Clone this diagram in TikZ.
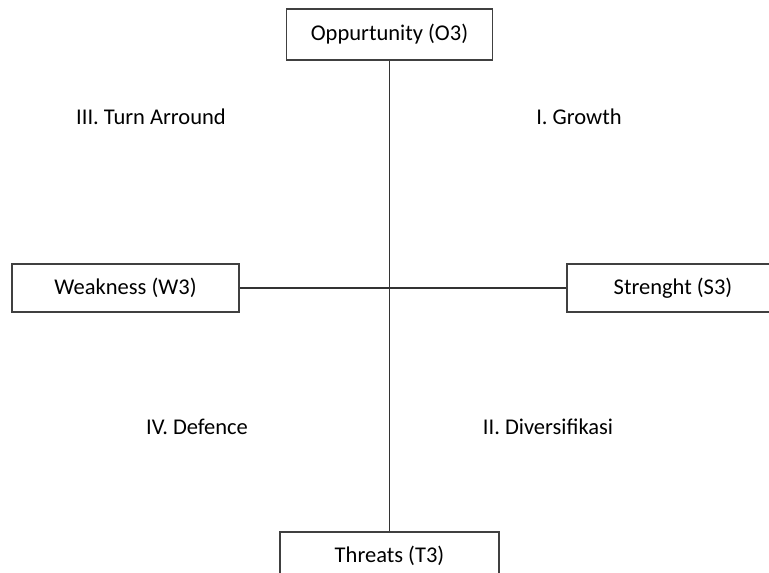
\documentclass[tikz,border=0pt]{standalone}
\usepackage{fontspec}
\setmainfont{Carlito}
\usetikzlibrary{positioning}

\begin{document}
\begin{tikzpicture}
          [ x=1pt, y=-1pt,
            element/.style={
              rectangle,
              draw=black!75,
              line width=1.3pt,
              inner sep=0pt,
              font=\fontsize{22.5}{27}\selectfont,
              text centered},
            quadrant/.style={
              inner sep=0pt,
              font=\fontsize{22.5}{27}\selectfont},
            line/.style={
              draw=black!80,
              line width=1.1pt,
            },
          ]
          \useasboundingbox (0,0) rectangle (769,573);
          \clip (0,0) rectangle (769,573);

          \node (opp) [element, minimum width=206pt, minimum height=51pt] at (389.5,34.5) {Oppurtunity (O3)};
          \node (weak) [element, minimum width=227pt, minimum height=48pt] at (125.5,288) {Weakness (W3)};
          \node (str) [element, minimum width=212pt, minimum height=48pt] at (673,288) {Strenght (S3)};
          \node (thr) [element, minimum width=219pt, minimum height=48pt] at (389.5,556) {Threats (T3)};

          \node (growth) [quadrant] at (579,117) {I. Growth};
          \node (turn) [quadrant] at (151,117) {III. Turn Arround};
          \node (defence) [quadrant] at (197,427) {IV. Defence};
          \node (divers) [quadrant] at (548,427) {II. Diversifikasi};

          \draw[line] (opp) -- (thr);
          \draw[line] (weak) -- (str);

        \end{tikzpicture}
\end{document}
